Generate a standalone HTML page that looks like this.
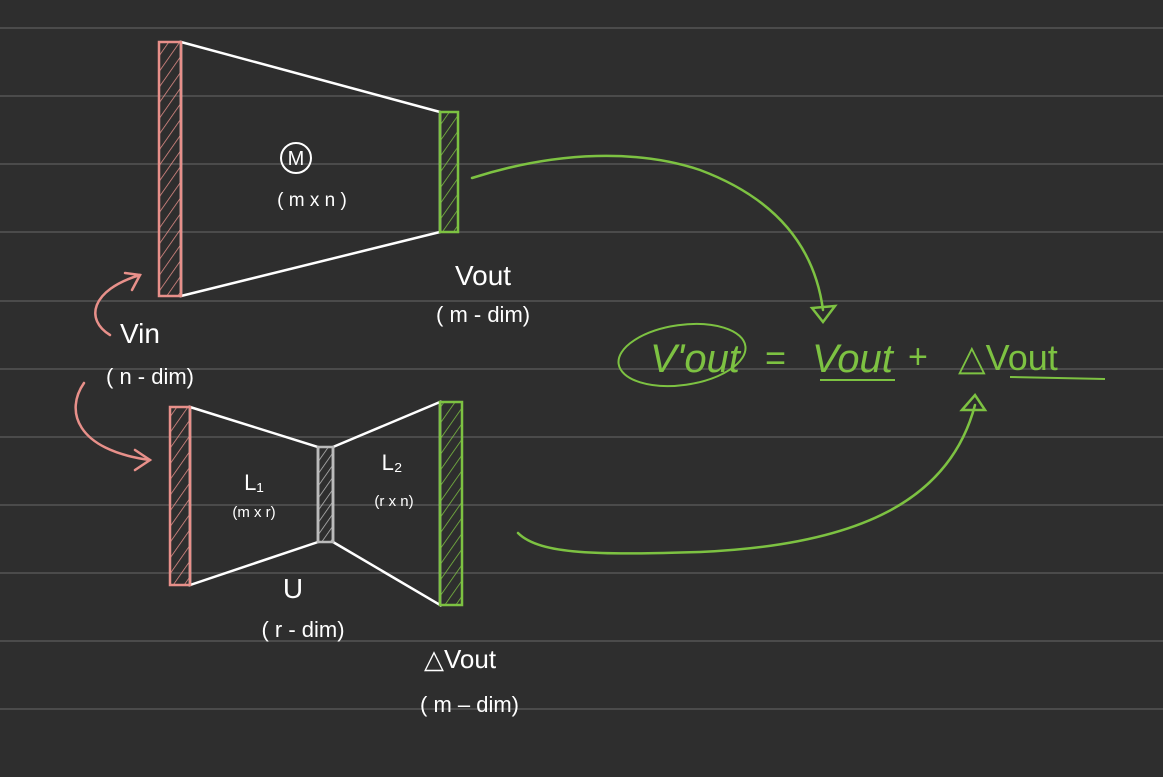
<!DOCTYPE html>
<html><head><meta charset="utf-8"><style>
html,body{margin:0;padding:0;background:#2e2e2e;}
svg{display:block;}
text{font-family:"Liberation Sans",sans-serif;}
</style></head><body>
<svg width="1163" height="777" viewBox="0 0 1163 777">
<defs>
<pattern id="hp" width="9" height="9" patternUnits="userSpaceOnUse" patternTransform="rotate(35)"><line x1="0" y1="0" x2="0" y2="9" stroke="#e8908a" stroke-width="1.5"/></pattern>
<pattern id="hg" width="9" height="9" patternUnits="userSpaceOnUse" patternTransform="rotate(35)"><line x1="0" y1="0" x2="0" y2="9" stroke="#7dc242" stroke-width="1.5"/></pattern>
<pattern id="hw" width="7" height="7" patternUnits="userSpaceOnUse" patternTransform="rotate(35)"><line x1="0" y1="0" x2="0" y2="7" stroke="#bbb" stroke-width="1.5"/></pattern>
</defs>
<rect width="1163" height="777" fill="#2e2e2e"/>
<g stroke="#4b4b4b" stroke-width="2">
<line x1="0" y1="28" x2="1163" y2="28"/><line x1="0" y1="96" x2="1163" y2="96"/><line x1="0" y1="164" x2="1163" y2="164"/><line x1="0" y1="232" x2="1163" y2="232"/><line x1="0" y1="301" x2="1163" y2="301"/><line x1="0" y1="369" x2="1163" y2="369"/><line x1="0" y1="437" x2="1163" y2="437"/><line x1="0" y1="505" x2="1163" y2="505"/><line x1="0" y1="573" x2="1163" y2="573"/><line x1="0" y1="641" x2="1163" y2="641"/><line x1="0" y1="709" x2="1163" y2="709"/>
</g>
<g fill="none" stroke="#fff" stroke-width="2.5">
<polygon points="181,42 440,112 440,232 181,296"/>
</g>
<rect x="159" y="42" width="22" height="254" fill="url(#hp)" stroke="#e8908a" stroke-width="2.5"/>
<rect x="440" y="112" width="18" height="120" fill="url(#hg)" stroke="#7dc242" stroke-width="2.5"/>
<circle cx="296" cy="158" r="15" fill="none" stroke="#fff" stroke-width="2"/>
<text x="296" y="165" font-size="20" fill="#fff" text-anchor="middle">M</text>
<text x="312" y="206" font-size="19" fill="#fff" text-anchor="middle">( m x n )</text>
<g fill="none" stroke="#fff" stroke-width="2.5">
<polygon points="190,407 318,447 318,542 190,585"/>
<polygon points="333,447 440,402 440,605 333,542"/>
</g>
<rect x="170" y="407" width="20" height="178" fill="url(#hp)" stroke="#e8908a" stroke-width="2.5"/>
<rect x="318" y="447" width="15" height="95" fill="url(#hw)" stroke="#bbb" stroke-width="2.5"/>
<rect x="440" y="402" width="22" height="203" fill="url(#hg)" stroke="#7dc242" stroke-width="2.5"/>
<text x="254" y="490" font-size="22" fill="#fff" text-anchor="middle">L₁</text>
<text x="254" y="517" font-size="15" fill="#fff" text-anchor="middle">(m x r)</text>
<text x="392" y="470" font-size="22" fill="#fff" text-anchor="middle">L₂</text>
<text x="394" y="506" font-size="15" fill="#fff" text-anchor="middle">(r x n)</text>
<text x="293" y="598" font-size="28" fill="#fff" text-anchor="middle">U</text>
<text x="303" y="637" font-size="22" fill="#fff" text-anchor="middle">( r - dim)</text>
<text x="455" y="285" font-size="28" fill="#fff">Vout</text>
<text x="436" y="322" font-size="22" fill="#fff">( m - dim)</text>
<text x="424" y="668" font-size="26" fill="#fff">△Vout</text>
<text x="420" y="712" font-size="22" fill="#fff">( m – dim)</text>
<text x="120" y="343" font-size="28" fill="#fff">Vin</text>
<text x="106" y="384" font-size="22" fill="#fff">( n - dim)</text>
<g fill="none" stroke="#e8908a" stroke-width="2.5" stroke-linecap="round">
<path d="M110,335 C85,320 90,290 140,275"/><path d="M125,273 L140,275 L132,290"/>
<path d="M84,383 C65,410 75,450 150,460"/><path d="M135,450 L150,460 L135,470"/>
</g>
<g fill="none" stroke="#7dc242" stroke-width="2.5" stroke-linecap="round">
<path d="M472,178 C560,150 640,150 700,170 C780,200 815,250 823,310"/><path d="M812,308 L823,322 L835,306 Z"/>
<path d="M518,533 C540,555 600,555 700,552 C860,545 950,500 975,405"/><path d="M962,410 L975,395 L985,410 Z"/>
</g>
<g fill="#7dc242">
<ellipse cx="682" cy="355" rx="64" ry="30" fill="none" stroke="#7dc242" stroke-width="2" transform="rotate(-8 682 355)"/>
<text x="650" y="372" font-size="40" font-style="italic">V'out</text>
<text x="765" y="370" font-size="36">=</text>
<text x="812" y="372" font-size="40" font-style="italic">Vout</text>
<text x="908" y="368" font-size="34">+</text>
<text x="958" y="370" font-size="36">△Vout</text>
<line x1="820" y1="380" x2="895" y2="380" stroke="#7dc242" stroke-width="2"/>
<line x1="1010" y1="377" x2="1105" y2="379" stroke="#7dc242" stroke-width="2"/>
</g>
</svg>
</body></html>
